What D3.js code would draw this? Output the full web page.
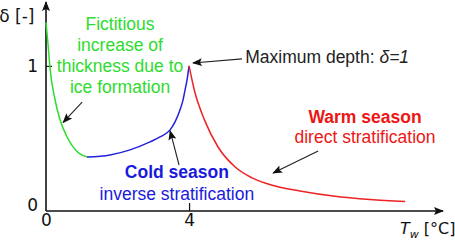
<!DOCTYPE html>
<html>
<head>
<meta charset="utf-8">
<title>Ice thickness vs water temperature</title>
<script src="https://d3js.org/d3.v7.min.js"></script>
<style>
  body { margin: 0; background: #fff; }
  svg { display: block; }
  .ax text { font-family: "DejaVu Sans", sans-serif; fill: #111; }
  .note { font-family: "Liberation Sans", Arial, sans-serif; font-size: 17.5px; }
  .curve { fill: none; stroke-width: 1.5px; }
</style>
</head>
<body>
<div id="chart"></div>
<script>
// values: water temperature (°C) vs relative depth delta
var iceX    = [0, 0.06, 0.11, 0.25, 0.39, 0.59, 0.87, 1.147];
var iceY    = [1.30, 1.14, 0.99, 0.77, 0.63, 0.51, 0.41, 0.372];
var coldX   = [1.147, 1.79, 2.35, 2.909, 3.189, 3.469, 3.608, 3.748, 3.832, 3.888, 3.944, 4.0];
var coldY   = [0.372, 0.386, 0.421, 0.476, 0.510, 0.559, 0.614, 0.697, 0.766, 0.834, 0.903, 1.0];
var warmX   = [4.0, 4.15, 4.43, 4.81, 5.29, 5.76, 6.41, 7.10, 8.03, 9.06, 10.04];
var warmY   = [1.0, 0.83, 0.628, 0.441, 0.303, 0.228, 0.172, 0.138, 0.103, 0.079, 0.066];
var xTicks  = [0, 4];
var yTicks  = [0, 1];

var W = 455, H = 242;
var svg = d3.select("#chart").append("svg").attr("width", W).attr("height", H);

var x = d3.scaleLinear().domain([0, 11.1]).range([46, 443]);
var y = d3.scaleLinear().domain([0, 1.44]).range([211, 2]);

var defs = svg.append("defs");
defs.append("marker")
    .attr("id", "head")
    .attr("viewBox", "0 0 10 10")
    .attr("refX", 9).attr("refY", 5)
    .attr("markerWidth", 10).attr("markerHeight", 10)
    .attr("markerUnits", "userSpaceOnUse")
    .attr("orient", "auto")
  .append("path")
    .attr("d", "M0,1 L10,5 L0,9 L2,5 Z")
    .attr("fill", "#111");

// axes with arrows
svg.append("line")
    .attr("x1", x(0)).attr("y1", y(0)).attr("x2", x(0)).attr("y2", y(1.44))
    .attr("stroke", "#111").attr("stroke-width", 1.6).attr("marker-end", "url(#head)");
svg.append("line")
    .attr("x1", x(0)).attr("y1", y(0)).attr("x2", x(11.1)).attr("y2", y(0))
    .attr("stroke", "#111").attr("stroke-width", 1.6).attr("marker-end", "url(#head)");

var yAxis = svg.append("g").attr("class", "ax")
    .attr("transform", "translate(" + x(0) + ",0)")
    .call(d3.axisLeft(y).tickValues(yTicks).tickSize(-6).tickPadding(8).tickFormat(d3.format("d")));
var xAxis = svg.append("g").attr("class", "ax")
    .attr("transform", "translate(0," + y(0) + ")")
    .call(d3.axisBottom(x).tickValues(xTicks).tickSize(-8).tickPadding(3).tickFormat(d3.format("d")));
svg.selectAll(".ax .domain").remove();
svg.selectAll(".ax line").attr("stroke", "#111").attr("stroke-width", 1.2);
svg.selectAll(".ax text").attr("font-size", 17).attr("font-family", null);
xAxis.selectAll(".tick").filter(function(d) { return d === 0; }).select("line").remove();
yAxis.selectAll(".tick").filter(function(d) { return d === 0; }).select("line").remove();
yAxis.selectAll(".tick").filter(function(d) { return d === 0; }).select("text").attr("dy", "-0.04em");

// axis titles
svg.append("text")
    .attr("x", 34.5).attr("y", 22).attr("text-anchor", "end")
    .style("font-family", "'DejaVu Sans', sans-serif").style("font-size", "17px").attr("fill", "#111")
    .text("δ [-]");
var tw = svg.append("text")
    .attr("x", 400).attr("y", 234)
    .style("font-family", "'DejaVu Sans', sans-serif").style("font-size", "16px").attr("fill", "#111");
tw.append("tspan").style("font-style", "italic").text("T");
tw.append("tspan").attr("dy", 4).style("font-size", "11px").style("font-style", "italic").text("w");
tw.append("tspan").attr("dy", -4).text(" [°C]");

// curves
var line = d3.line().x(function(d) { return x(d[0]); }).y(function(d) { return y(d[1]); })
    .curve(d3.curveMonotoneX);
function pairs(xs, ys) { return xs.map(function(v, i) { return [v, ys[i]]; }); }

svg.append("path").attr("class", "curve").attr("stroke", "#2ddc2d").attr("d", line(pairs(iceX, iceY)));
svg.append("path").attr("class", "curve").attr("stroke", "#2222dd").attr("d", line(pairs(coldX, coldY)));
svg.append("path").attr("class", "curve").attr("stroke", "#ee2222").attr("d", line(pairs(warmX, warmY)));

// annotation arrows
function arrow(x1, y1, x2, y2) {
  svg.append("line")
      .attr("x1", x(x1)).attr("y1", y(y1)).attr("x2", x(x2)).attr("y2", y(y2))
      .attr("stroke", "#222").attr("stroke-width", 1.1).attr("marker-end", "url(#head)");
}
arrow(1.01, 0.75, 0.48, 0.61);  // ice
arrow(5.48, 1.048, 4.11, 1.02); // maximum
arrow(3.72, 0.317, 3.47, 0.552); // cold
arrow(7.61, 0.414, 6.35, 0.262); // warm

// labels
function label(lines, cx, cy, gap, color) {
  var t = svg.append("text").attr("class", "note").attr("text-anchor", "middle").attr("fill", color);
  lines.forEach(function(l, i) {
    t.append("tspan").attr("x", x(cx)).attr("y", y(cy) + i * gap)
      .style("font-weight", l.bold ? "bold" : null).text(l.t);
  });
}
label([{t: "Fictitious"}, {t: "increase of"}, {t: "thickness due to"}, {t: "ice formation"}],
      2.07, 1.248, 21, "#2ddc2d");
label([{t: "Cold season", bold: true}, {t: "inverse stratification"}], 3.66, 0.228, 22, "#1a1add");
label([{t: "Warm season", bold: true}, {t: "direct stratification"}], 8.92, 0.607, 20.5, "#ee1515");

var mx = svg.append("text").attr("class", "note").attr("x", x(5.57)).attr("y", y(1.02)).attr("fill", "#222");
mx.append("tspan").text("Maximum depth: ");
mx.append("tspan").style("font-style", "italic").text("δ=1");
</script>
</body>
</html>
